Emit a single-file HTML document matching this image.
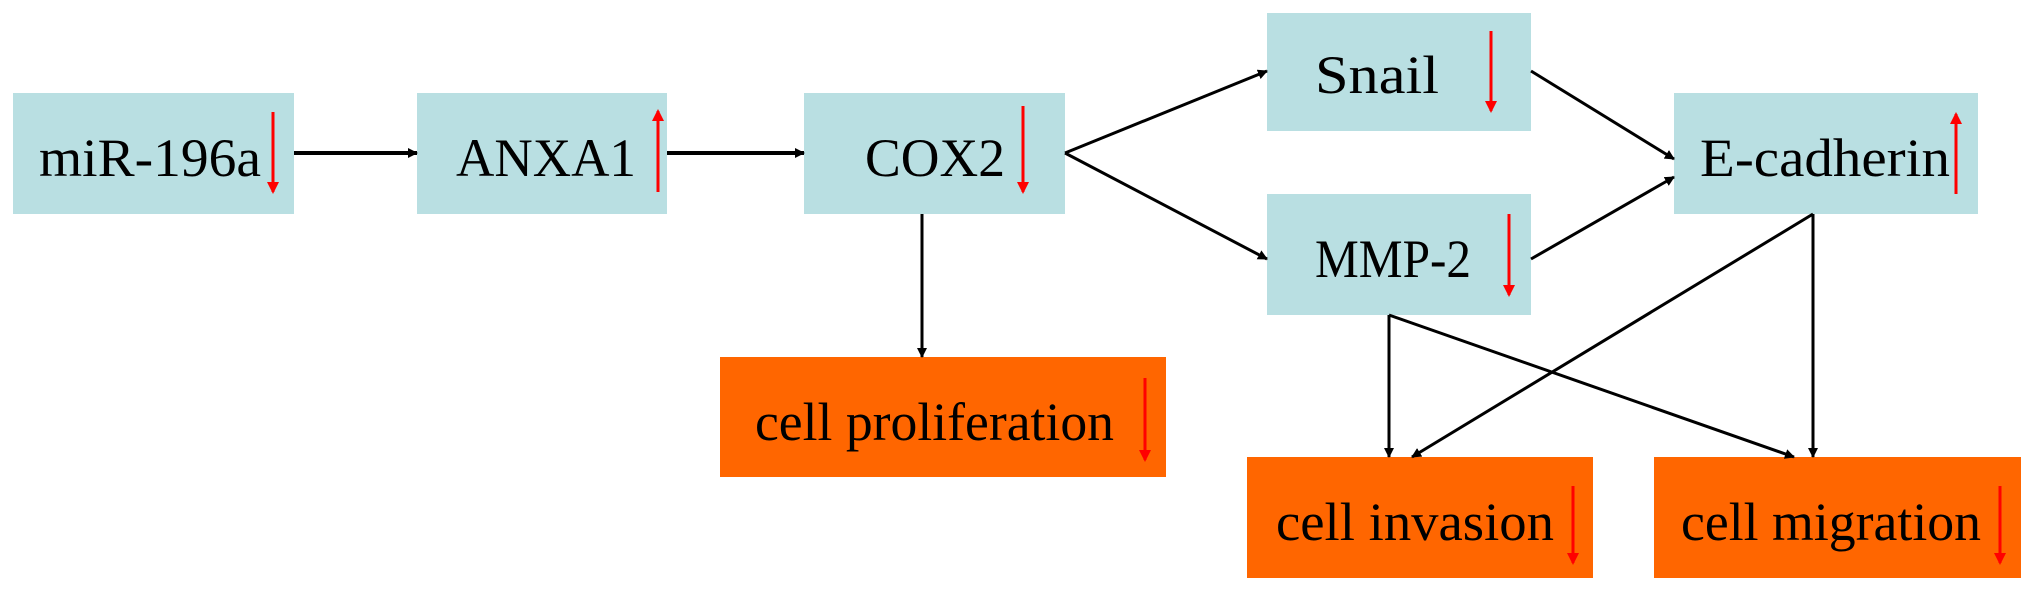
<!DOCTYPE html>
<html><head><meta charset="utf-8"><style>
html,body{margin:0;padding:0;background:#fff;}
svg{display:block;}
text{font-family:"Liberation Serif",serif;font-size:54px;fill:#000;}
</style></head><body>
<svg width="2031" height="593" viewBox="0 0 2031 593" xmlns="http://www.w3.org/2000/svg">
<defs>
<marker id="k" markerWidth="10" markerHeight="10" refX="9" refY="5" orient="auto" markerUnits="userSpaceOnUse" viewBox="0 0 10 10"><path d="M0,0 L10,5 L0,10 z" fill="#000"/></marker>
<marker id="r" markerWidth="12" markerHeight="16" refX="10" refY="6" orient="auto" markerUnits="userSpaceOnUse" viewBox="0 0 12 12"><path d="M0,0 L12,6 L0,12 z" fill="#f00"/></marker>
</defs>
<g fill="#b9dfe2">
<rect x="13" y="93" width="281" height="121"/>
<rect x="417" y="93" width="250" height="121"/>
<rect x="804" y="93" width="261" height="121"/>
<rect x="1267" y="13" width="264" height="118"/>
<rect x="1267" y="194" width="264" height="121"/>
<rect x="1674" y="93" width="304" height="121"/>
</g>
<g fill="#ff6600">
<rect x="720" y="357" width="446" height="120"/>
<rect x="1247" y="457" width="346" height="121"/>
<rect x="1654" y="457" width="367" height="121"/>
</g>
<g stroke="#000" stroke-width="3" fill="none" marker-end="url(#k)">
<line x1="294" y1="153" x2="417" y2="153" stroke-width="4"/>
<line x1="667" y1="153" x2="804" y2="153" stroke-width="4"/>
<line x1="922" y1="214" x2="922" y2="357"/>
<line x1="1065" y1="153" x2="1267" y2="71"/>
<line x1="1065" y1="153" x2="1267" y2="259"/>
<line x1="1531" y1="71" x2="1674" y2="159"/>
<line x1="1531" y1="259" x2="1674" y2="177"/>
<line x1="1813" y1="214" x2="1813" y2="457"/>
<line x1="1813" y1="214" x2="1412" y2="457"/>
<line x1="1389" y1="315" x2="1389" y2="457"/>
<line x1="1389" y1="315" x2="1794" y2="457"/>
</g>
<g stroke="#f00" stroke-width="3" marker-end="url(#r)">
<line x1="273" y1="112" x2="273" y2="192"/>
<line x1="658" y1="192" x2="658" y2="111"/>
<line x1="1023" y1="106" x2="1023" y2="192"/>
<line x1="1491" y1="31" x2="1491" y2="111"/>
<line x1="1509" y1="214" x2="1509" y2="295"/>
<line x1="1956" y1="194" x2="1956" y2="114"/>
<line x1="1145" y1="378" x2="1145" y2="460"/>
<line x1="1573" y1="486" x2="1573" y2="563"/>
<line x1="2000" y1="486" x2="2000" y2="563"/>
</g>
<text x="39" y="176" textLength="222" lengthAdjust="spacingAndGlyphs">miR-196a</text>
<text x="456" y="176" textLength="180" lengthAdjust="spacingAndGlyphs">ANXA1</text>
<text x="865" y="176" textLength="140" lengthAdjust="spacingAndGlyphs">COX2</text>
<text x="1315" y="93" textLength="124" lengthAdjust="spacingAndGlyphs">Snail</text>
<text x="1315" y="277" textLength="156" lengthAdjust="spacingAndGlyphs">MMP-2</text>
<text x="1700" y="176" textLength="250" lengthAdjust="spacingAndGlyphs">E-cadherin</text>
<text x="755" y="440" textLength="359" lengthAdjust="spacingAndGlyphs">cell proliferation</text>
<text x="1276" y="540" textLength="278" lengthAdjust="spacingAndGlyphs">cell invasion</text>
<text x="1681" y="540" textLength="300" lengthAdjust="spacingAndGlyphs">cell migration</text>
</svg>
</body></html>
